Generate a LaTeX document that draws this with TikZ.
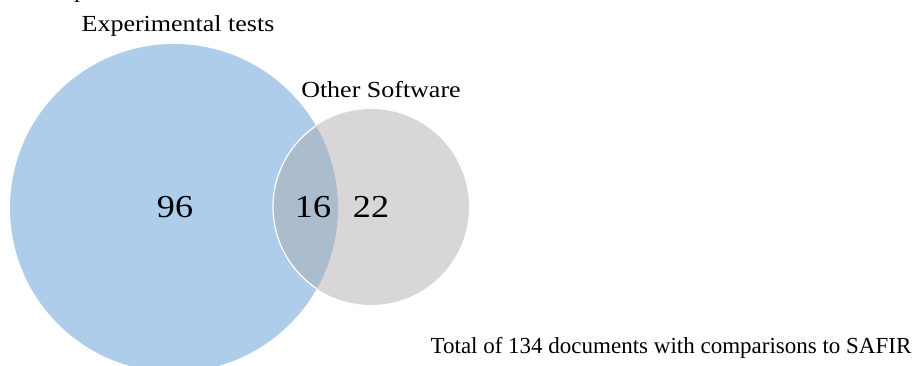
\documentclass[tikz,border=0pt]{standalone}
\usepackage{fontspec}
\setmainfont{Liberation Serif}
\newfontfamily\widefont{Liberation Serif}[FakeStretch=1.13]
\definecolor{vblue}{HTML}{AECDEA}
\definecolor{vgray}{HTML}{D8D6D7}
\definecolor{vover}{HTML}{ABBCCC}
\tikzset{
  lbl/.style={inner sep=0pt, anchor=base, font=\fontsize{23}{26}\selectfont},
  wlbl/.style={inner sep=0pt, anchor=base, font=\widefont\fontsize{23}{26}\selectfont},
  num/.style={inner sep=0pt, anchor=base, font=\widefont\fontsize{32}{36}\selectfont},
}
\begin{document}
\begin{tikzpicture}[x=1pt,y=-1pt]
\useasboundingbox (0,0) rectangle (916,366);
% circles
\fill[vblue] (174,208) circle[radius=164];
\fill[vgray] (371,207) circle[radius=98];
\begin{scope}
  \clip (174,208) circle[radius=164];
  \fill[vover] (371,207) circle[radius=98];
\end{scope}
\begin{scope}
  \clip (174,208) circle[radius=164];
  \draw[white, line width=1.2pt] (371,207) circle[radius=98];
\end{scope}
\coordinate (big) at (174,208);
\coordinate (small) at (371,207);
% labels
\node[lbl] (cut) at (80,-2) {p};
\node[wlbl] (exp) at (178,32) {Experimental tests};
\node[wlbl] (oth) at (381,98) {Other Software};
\node[num] (n96) at (175,218) {96};
\node[num] (n16) at (313,218) {16};
\node[num] (n22) at (371,218) {22};
\node[lbl] (tot) at (671,353) {Total of 134 documents with comparisons to SAFIR};
\end{tikzpicture}
\end{document}
